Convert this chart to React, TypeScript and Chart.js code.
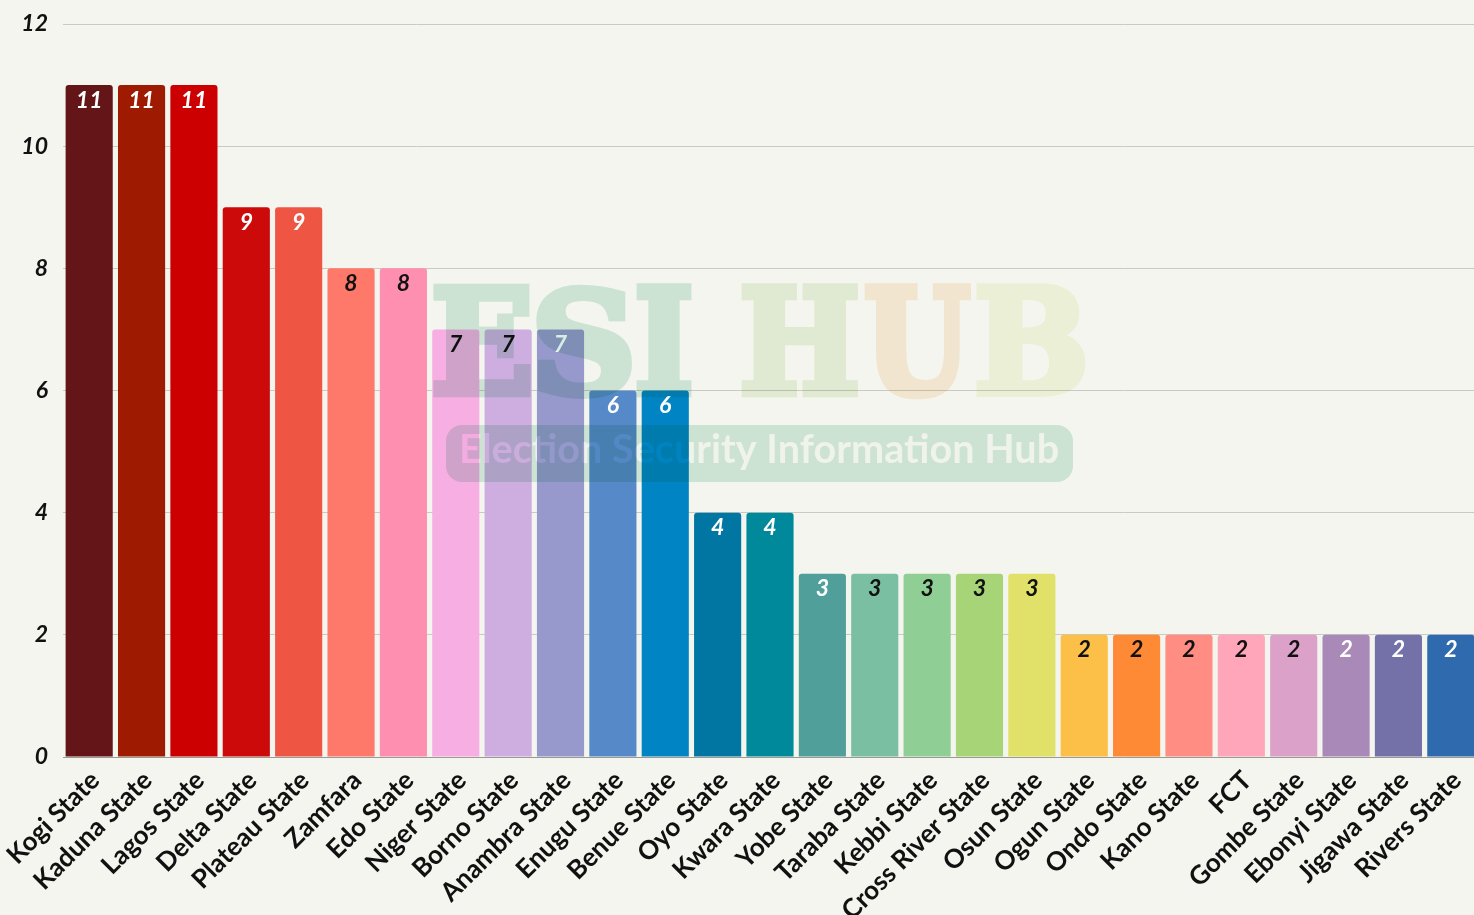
import React, { useEffect, useRef } from "react";
import { Chart, registerables } from "chart.js";

Chart.register(...registerables);

const categories = [
  "Kogi State", "Kaduna State", "Lagos State", "Delta State", "Plateau State", "Zamfara",
  "Edo State", "Niger State", "Borno State", "Anambra State", "Enugu State", "Benue State",
  "Oyo State", "Kwara State", "Yobe State", "Taraba State", "Kebbi State", "Cross River State",
  "Osun State", "Ogun State", "Ondo State", "Kano State", "FCT", "Gombe State",
  "Ebonyi State", "Jigawa State", "Rivers State",
];

const values = [11, 11, 11, 9, 9, 8, 8, 7, 7, 7, 6, 6, 4, 4, 3, 3, 3, 3, 3, 2, 2, 2, 2, 2, 2, 2, 2];

const barColors = [
  "#641517", "#9e1a00", "#cc0000", "#cc0a0a", "#ef5543", "#ff796b",
  "#ff8fb0", "#f7aee3", "#ceaee0", "#9799cd", "#5589c8", "#0084c4",
  "#0276a3", "#00899a", "#519f9a", "#7abfa2", "#8fcf95", "#a8d478",
  "#e1e16a", "#fcbf47", "#fe8a35", "#ff8d84", "#ffa6bb", "#dca1c8",
  "#a989b8", "#7371a8", "#2e6aad",
];

const labelColors = [
  "#ffffff", "#ffffff", "#ffffff", "#ffffff", "#ffffff", "#111111",
  "#111111", "#111111", "#111111", "#ffffff", "#ffffff", "#ffffff",
  "#ffffff", "#ffffff", "#ffffff", "#111111", "#111111", "#111111",
  "#111111", "#111111", "#111111", "#111111", "#111111", "#111111",
  "#ffffff", "#ffffff", "#ffffff",
];

const yTicks = [0, 2, 4, 6, 8, 10, 12];

const BG = "#f4f5ee";
const FONT = "Lato";

const valueLabelPlugin = {
  id: "valueLabels",
  afterDatasetsDraw(chart: any) {
    const ctx = chart.ctx;
    const meta = chart.getDatasetMeta(0);
    ctx.save();
    ctx.font = `italic bold 23px ${FONT}`;
    ctx.textAlign = "center";
    ctx.textBaseline = "middle";
    meta.data.forEach((bar: any, i: number) => {
      ctx.fillStyle = labelColors[i];
      ctx.fillText(String(values[i]), bar.x, bar.y + 15);
    });
    ctx.restore();
  },
};

const watermarkPlugin = {
  id: "watermark",
  afterDraw(chart: any) {
    const ctx = chart.ctx;
    const off = document.createElement("canvas");
    off.width = chart.width;
    off.height = chart.height;
    const o = off.getContext("2d") as CanvasRenderingContext2D;
    const letters = [
      { t: "E", x0: 433, x1: 531, c: "#d6ede2" },
      { t: "S", x0: 536, x1: 632, c: "#d6ede2" },
      { t: "I", x0: 636, x1: 692, c: "#d6ede2" },
      { t: "H", x0: 741, x1: 858, c: "#ebf3e0" },
      { t: "U", x0: 864, x1: 972, c: "#fdefdf" },
      { t: "B", x0: 976, x1: 1086, c: "#f6f9e6" },
    ];
    const top = 284;
    const base = 397;
    const lw = 8;
    o.font = `bold 160px "DejaVu Serif"`;
    o.textBaseline = "alphabetic";
    o.textAlign = "left";
    o.lineJoin = "miter";
    letters.forEach((l) => {
      const m = o.measureText(l.t);
      const gw = m.actualBoundingBoxLeft + m.actualBoundingBoxRight;
      const gh = m.actualBoundingBoxAscent;
      const sx = (l.x1 - l.x0 - lw) / gw;
      const sy = (base - top - lw) / gh;
      o.save();
      o.translate(l.x0 + lw / 2 + m.actualBoundingBoxLeft * sx, base - lw / 2);
      o.scale(sx, sy);
      o.fillStyle = l.c;
      o.strokeStyle = l.c;
      o.lineWidth = lw / ((sx + sy) / 2);
      o.fillText(l.t, 0, 0);
      o.strokeText(l.t, 0, 0);
      o.restore();
    });
    o.fillStyle = "#d6ede2";
    o.beginPath();
    (o as any).roundRect(446, 425, 627, 57, 16);
    o.fill();
    const txt = "Election Security Information Hub";
    o.font = `bold 41px ${FONT}`;
    const m2 = o.measureText(txt);
    const tw = m2.actualBoundingBoxLeft + m2.actualBoundingBoxRight;
    o.save();
    o.globalCompositeOperation = "destination-out";
    o.translate(462 + m2.actualBoundingBoxLeft, 463);
    o.scale(596 / tw, 1);
    o.textBaseline = "alphabetic";
    o.fillStyle = "rgba(0,0,0,0.9)";
    o.fillText(txt, 0, 0);
    o.restore();

    ctx.save();
    ctx.globalCompositeOperation = "multiply";
    ctx.drawImage(off, 0, 0);
    ctx.restore();
  },
};

const bgPlugin = {
  id: "bg",
  beforeDraw(chart: any) {
    const ctx = chart.ctx;
    ctx.save();
    ctx.fillStyle = BG;
    ctx.fillRect(0, 0, chart.width, chart.height);
    ctx.restore();
  },
};

export default function App() {
  const ref = useRef<HTMLCanvasElement | null>(null);

  useEffect(() => {
    document.body.style.margin = "0";
    document.body.style.background = BG;
    const chart = new Chart(ref.current as HTMLCanvasElement, {
      type: "bar",
      data: {
        labels: categories,
        datasets: [
          {
            data: values,
            backgroundColor: barColors,
            borderRadius: 3,
            borderSkipped: "bottom",
            barPercentage: 0.9,
            categoryPercentage: 1,
          },
        ],
      },
      options: {
        animation: false,
        responsive: false,
        maintainAspectRatio: false,
        layout: { padding: { top: 24, right: 0, left: 0, bottom: 0 } },
        plugins: {
          legend: { display: false },
          tooltip: { enabled: false },
        },
        scales: {
          x: {
            grid: { display: false, drawTicks: false },
            border: { display: true, color: "#9a9a94", width: 1 },
            ticks: {
              color: "#111111",
              font: { family: FONT, weight: "bold", size: 26 },
              minRotation: 45,
              maxRotation: 45,
              autoSkip: false,
              padding: 8,
              labelOffset: 6,
            },
            afterFit(scale: any) {
              scale.height = 158;
              scale.paddingLeft = 0;
              scale.paddingRight = 0;
            },
          },
          y: {
            min: 0,
            max: 12,
            afterBuildTicks(scale: any) {
              scale.ticks = yTicks.map((v) => ({ value: v }));
            },
            grid: { color: "#cacac2", drawTicks: false, lineWidth: 1 },
            border: { display: false },
            ticks: {
              color: "#111111",
              font: { family: FONT, weight: "bold", style: "italic", size: 23 },
              padding: 15,
            },
            afterFit(scale: any) {
              scale.width = 63;
              scale.paddingTop = 0;
              scale.paddingBottom = 0;
            },
          },
        },
      },
      plugins: [bgPlugin, valueLabelPlugin, watermarkPlugin],
    });
    return () => chart.destroy();
  }, []);

  return (
    <div style={{ position: "absolute", left: 0, top: 0, width: 1474, height: 915, overflow: "hidden", background: BG }}>
      <canvas ref={ref} width={1477} height={915} style={{ width: 1477, height: 915, display: "block" }} />
    </div>
  );
}
